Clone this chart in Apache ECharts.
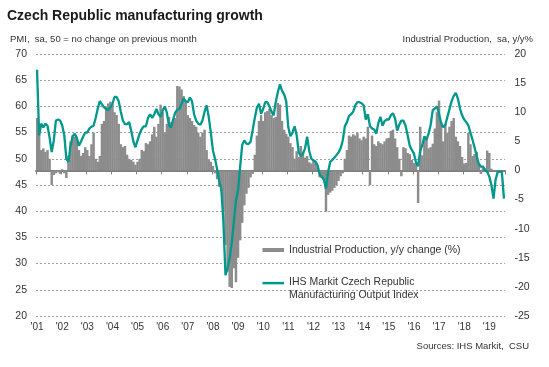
<!DOCTYPE html>
<html>
<head>
<meta charset="utf-8">
<script src="https://cdn.jsdelivr.net/npm/echarts@6/dist/echarts.min.js"></script>
<style>
html,body{margin:0;padding:0;background:#ffffff;}
#chart{width:549px;height:367px;}
</style>
</head>
<body>
<div id="chart"></div>
<script>
// ---- Data ----
const firstYear = 2001;
const lastYear = 2019;
const monthsInLastYear = 8; // Jan..Aug 2019

// PMI Output Index (left axis), monthly
const pmi2001 = [67, 54.5, 56.7, 56, 56.7, 56.3, 54, 51.3, 53.5, 57.3, 57.5, 57.3];
const pmi2002 = [56.4, 54.5, 50, 49.4, 52.5, 54.3, 54.8, 54, 52.5, 53.3, 54.2, 55];
const pmi2003 = [55, 55.8, 56.1, 56.3, 57.8, 59.6, 61, 60.4, 59.8, 59.5, 59.3, 59.8];
const pmi2004 = [60.5, 61.8, 61.8, 61, 59, 57.3, 56.6, 56.6, 57, 55.3, 53.3, 52.2];
const pmi2005 = [53.5, 54.8, 55.7, 56.2, 56.2, 57.8, 58.5, 57.8, 58.5, 59.5, 58.5, 58];
const pmi2006 = [59.2, 60, 58.8, 56.4, 56, 57.5, 58.8, 59.4, 59.5, 60.5, 61.5, 61];
const pmi2007 = [60.8, 61.7, 61, 58.5, 57.3, 56.7, 56.5, 57.3, 59, 60.2, 58, 55];
const pmi2008 = [51.6, 50, 48, 45.8, 44.2, 38, 27.8, 29.2, 31, 34, 38, 42];
const pmi2009 = [44, 48.5, 52.7, 53.5, 52.9, 52.8, 53.3, 55.5, 57.8, 59.8, 60.5, 58.6];
const pmi2010 = [59.5, 60.8, 60.8, 60, 59, 58.3, 60.8, 62.7, 64.2, 63, 62.3, 61];
const pmi2011 = [56, 54.3, 55, 56.2, 54.5, 51.2, 50.5, 51, 52, 54.2, 51.5, 50];
const pmi2012 = [49.7, 49.5, 48.7, 47, 46.5, 46, 44.3, 47.5, 49.4, 49.8, 50.2, 50.7];
const pmi2013 = [51.2, 52, 53.5, 56.2, 57, 58.2, 58.5, 59, 60.2, 60.8, 60.8, 60.6];
const pmi2014 = [60.2, 57.5, 58.5, 56.2, 55.8, 55.6, 54.8, 56.8, 58, 56.3, 57.2, 57.5];
const pmi2015 = [57.5, 58.3, 58.7, 57.7, 55.4, 56.5, 57.3, 57.3, 56.3, 54.5, 52.5, 51.7];
const pmi2016 = [51, 49.3, 48.6, 51.5, 52.6, 54.3, 53.6, 54.8, 56.5, 59.3, 59.6, 60];
const pmi2017 = [58.6, 56.8, 56, 56.5, 58, 59.5, 61, 62, 62.6, 61.5, 59.6, 58.3];
const pmi2018 = [57.5, 57, 56.4, 55, 53.6, 52.1, 50.5, 49, 48.5, 48.5, 47.8, 47.5];
const pmi2019 = [46.6, 45, 42.4, 46, 47.5, 47.5, 47.5, 42.4];

// Industrial production, y/y % (right axis), monthly
const ip2001 = [9, 6.5, 3.5, 3.8, 3.2, 3.5, 2, -2.5, -0.8, -0.5, -0.3, -0.6];
const ip2002 = [0.2, -0.5, -1.3, 2.5, 5, 6, 5.8, 5.5, 3.5, 2.5, 3, 4];
const ip2003 = [3.5, 2.5, 4.5, 6.5, 2, 1.5, 2.5, 8, 8.5, 11, 11.5, 11.8];
const ip2004 = [11.5, 10, 9.5, 8, 4.5, 4, 4.2, 2.7, 2, 1.8, 1.5, 1];
const ip2005 = [1.5, 2, 3.5, 3.3, 4.7, 4.5, 5, 6.2, 7.5, 5.8, 8, 11.3];
const ip2006 = [10, 6.5, 8, 9.2, 8.3, 8.5, 9, 14.5, 14.4, 13.9, 12.8, 11.8];
const ip2007 = [9.5, 9, 8.5, 7.8, 7.5, 6.5, 5.8, 6.5, 7, 3.5, 1.8, 1.5];
const ip2008 = [0.8, -0.5, -1.5, -2.8, -3.5, -7, -12.8, -17.4, -20, -20.2, -16.8, -19.2];
const ip2009 = [-15, -12, -9, -6, -4, -3, -1.2, -0.6, 2.7, 6, 8.5, 9.5];
const ip2010 = [8.5, 10, 10.2, 10.6, 9.5, 9, 9.2, 11.6, 11.3, 8.5, 7, 6.3];
const ip2011 = [5.8, 4.7, 4, 2, 3.3, 2.3, 4.2, 3.2, 2.2, 2.5, 1.4, 1.2];
const ip2012 = [1.8, 1.5, 0.5, -1.2, -1.3, -1.5, -7.1, -4.2, -3.8, -3.5, -3, -2.5];
const ip2013 = [-1.8, -1, -0.5, 2, 3.5, 6, 5.8, 6.2, 6, 6.5, 5.5, 5.2];
const ip2014 = [5.8, 5.5, 7.5, -2.5, 6, 4.5, 4.2, 5, 4.7, 4.5, 5, 5.5];
const ip2015 = [5.6, 6.8, 7, 5.5, 4, 2, -1, 4, 3.8, 3, 2.8, 1.8];
const ip2016 = [1.3, 1.2, -5.6, 7.5, 2.6, 5.3, 5.8, 3.8, 4, 4.6, 7.2, 10];
const ip2017 = [12, 8.3, 5, 8, 6.5, 7.5, 8.5, 9, 5.8, 5, 4.2, 2.3];
const ip2018 = [1.2, 1.3, 6.5, 4.5, 2.5, 2.8, 3.2, 1.2, -0.6, 0.6, 0.4, 3.4];
const ip2019 = [3, 0.3, null, null, null, null, null, null];

const pmiValues = [].concat(pmi2001, pmi2002, pmi2003, pmi2004, pmi2005, pmi2006, pmi2007,
  pmi2008, pmi2009, pmi2010, pmi2011, pmi2012, pmi2013, pmi2014, pmi2015, pmi2016,
  pmi2017, pmi2018, pmi2019);
const ipValues = [].concat(ip2001, ip2002, ip2003, ip2004, ip2005, ip2006, ip2007,
  ip2008, ip2009, ip2010, ip2011, ip2012, ip2013, ip2014, ip2015, ip2016,
  ip2017, ip2018, ip2019);

// Monthly categories
const months = [];
for (let y = firstYear; y <= lastYear; y++) {
  const n = (y === lastYear) ? monthsInLastYear : 12;
  for (let m = 1; m <= n; m++) months.push(y + '-' + (m < 10 ? '0' + m : m));
}

const ipName = 'Industrial Production, y/y change (%)';
const pmiName = 'IHS Markit Czech Republic\nManufacturing Output Index';

const FONT = 'Liberation Sans, Arial, Helvetica, sans-serif';
const TXT = '#333333';
const BAR = '#8c8c8c';
const TEAL = '#00978d';

const chart = echarts.init(document.getElementById('chart'), null, {renderer: 'canvas'});
chart.setOption({
  animation: false,
  backgroundColor: '#ffffff',
  textStyle: {fontFamily: FONT},
  title: [
    {text: 'Czech Republic manufacturing growth', left: 7, top: 9, padding: 0,
     textStyle: {fontSize: 14, fontWeight: 'bold', color: '#1a1a1a', fontFamily: FONT}},
    {text: 'PMI,  sa, 50 = no change on previous month', left: 10, top: 34, padding: 0,
     textStyle: {fontSize: 9.5, fontWeight: 'normal', color: TXT, fontFamily: FONT}},
    {text: 'Industrial Production,  sa, y/y%', right: 16, top: 34, padding: 0,
     textStyle: {fontSize: 9.5, fontWeight: 'normal', color: TXT, fontFamily: FONT}},
    {text: 'Sources: IHS Markit,  CSU', right: 20, top: 341, padding: 0,
     textStyle: {fontSize: 9.5, fontWeight: 'normal', color: TXT, fontFamily: FONT}}
  ],
  legend: [
    {data: [ipName], left: 262.5, top: 244.5, padding: 0, icon: 'rect',
     itemWidth: 21.5, itemHeight: 4, selectedMode: false,
     textStyle: {fontSize: 10.5, color: TXT, fontFamily: FONT}},
    {data: [pmiName], left: 262.5, top: 264, padding: 0, icon: 'rect',
     itemWidth: 21.5, itemHeight: 2.5, selectedMode: false,
     formatter: function (name) {
       const parts = name.split('\n');
       return '{s| }\n{a|' + parts[0] + '}\n{a|' + parts[1] + '}';
     },
     textStyle: {fontSize: 10.5, color: TXT, fontFamily: FONT,
       rich: {
         s: {fontSize: 10.5, height: 11.4, lineHeight: 11.4, color: TXT, fontFamily: FONT},
         a: {fontSize: 10.5, lineHeight: 13.4, color: TXT, fontFamily: FONT}
       }}}
  ],
  grid: {left: 36, right: 44, top: 54, bottom: 51, containLabel: false},
  xAxis: {
    type: 'category', data: months, boundaryGap: true,
    axisLine: {show: true, lineStyle: {color: '#7f7f7f', width: 2}},
    axisTick: {show: true, interval: function (i) { return i % 12 === 0; }, length: 4,
               lineStyle: {color: '#7f7f7f', width: 1}},
    axisLabel: {interval: function (i) { return i % 12 === 0; },
                formatter: function (v) { return "'" + v.slice(2, 4); },
                color: TXT, fontSize: 10, margin: 6, fontFamily: FONT},
    splitLine: {show: false}
  },
  yAxis: [
    {type: 'value', min: 20, max: 70, interval: 5, position: 'left',
     axisLine: {show: false}, axisTick: {show: false},
     axisLabel: {color: TXT, fontSize: 10.5, margin: 9, fontFamily: FONT, showMinLabel: true, showMaxLabel: true},
     splitLine: {show: true, lineStyle: {color: '#a0a0a0', width: 1, type: [2, 2]}}},
    {type: 'value', min: -25, max: 20, interval: 5, position: 'right',
     axisLine: {show: false}, axisTick: {show: false},
     axisLabel: {color: TXT, fontSize: 10.5, margin: 9.5, fontFamily: FONT, showMinLabel: true, showMaxLabel: true},
     splitLine: {show: false}}
  ],
  series: [
    {name: ipName, type: 'bar', yAxisIndex: 1, data: ipValues,
     barWidth: '118%',
     itemStyle: {color: BAR}, z: 2},
    {name: pmiName, type: 'line', yAxisIndex: 0, data: pmiValues,
     symbol: 'none', showSymbol: false,
     lineStyle: {color: TEAL, width: 2.3}, itemStyle: {color: TEAL}, z: 3}
  ]
});
</script>
</body>
</html>
